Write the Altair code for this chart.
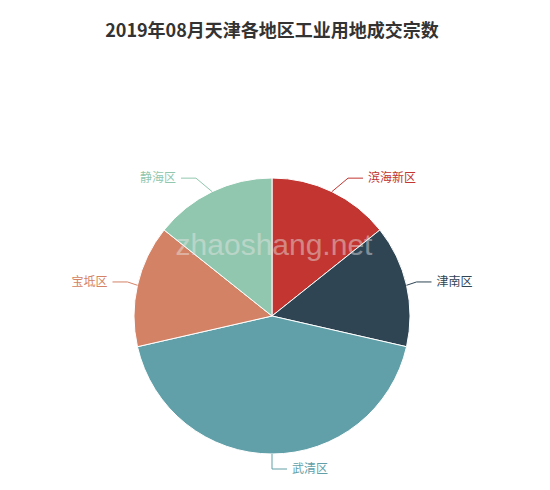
import math
import pandas as pd
import altair as alt

title = "2019年08月天津各地区工业用地成交宗数"
districts = ["滨海新区", "津南区", "武清区", "宝坻区", "静海区"]
counts = [1, 1, 3, 1, 1]
colors = ["#c23531", "#2f4554", "#61a0a8", "#d48265", "#91c7ae"]

W, H = 534, 474
CX, CY, R = 264, 308, 138
LEN1, LEN2, GAP = 15, 15, 5

df = pd.DataFrame({"name": districts, "value": counts, "idx": range(len(districts))})

# leader lines and label anchors, derived from the slice angles
# (label x pushed out along a circle, the way the original pie lays labels out)
total = sum(counts)
line_rows, label_rows = [], []
cum = 0
for name, v in zip(districts, counts):
    mid = (cum + v / 2) / total * 2 * math.pi
    cum += v
    sx, sy = math.sin(mid), -math.cos(mid)
    side = 1 if sx >= -1e-9 else -1
    p1 = (CX + R * sx, CY + R * sy)
    ly = CY + (R + LEN1) * sy
    tx = CX + (R + LEN1) * sx + side * (LEN2 + GAP)
    dy = abs(ly - CY)
    if dy < R + LEN1 - 1e-6:
        tx = CX + side * math.sqrt((R + LEN1 + LEN2) ** 2 - dy ** 2)
    x3 = tx - side * GAP
    x2 = x3 - side * LEN2
    for k, (px, py) in enumerate([p1, (x2, ly), (x3, ly)]):
        line_rows.append({"name": name, "k": k, "px": px, "py": py})
    label_rows.append({"name": name, "tx": tx, "ty": ly,
                       "side": "right" if side > 0 else "left"})
lines = pd.DataFrame(line_rows)
labels = pd.DataFrame(label_rows)

color = alt.Color("name:N", scale=alt.Scale(domain=districts, range=colors), legend=None)

pie = alt.Chart(df).mark_arc(stroke="white", strokeWidth=1).encode(
    theta=alt.Theta("value:Q", stack=True),
    order=alt.Order("idx:Q"),
    color=color,
    radius=alt.value(R),
    x=alt.value(CX),
    y=alt.value(CY),
)

leader = alt.Chart(lines).mark_line(strokeWidth=1).encode(
    x=alt.X("px:Q", scale=None),
    y=alt.Y("py:Q", scale=None),
    detail="name:N",
    order="k:Q",
    color=color,
)

label_r = alt.Chart(labels).transform_filter("datum.side == 'right'").mark_text(
    align="left", baseline="middle", fontSize=12, font="Noto Sans CJK SC"
).encode(
    x=alt.X("tx:Q", scale=None),
    y=alt.Y("ty:Q", scale=None),
    text="name:N",
    color=color,
)
label_l = alt.Chart(labels).transform_filter("datum.side == 'left'").mark_text(
    align="right", baseline="middle", fontSize=12, font="Noto Sans CJK SC"
).encode(
    x=alt.X("tx:Q", scale=None),
    y=alt.Y("ty:Q", scale=None),
    text="name:N",
    color=color,
)

watermark = alt.Chart(pd.DataFrame({"t": ["zhaoshang.net"]})).mark_text(
    align="center", baseline="alphabetic", fontSize=30, font="Liberation Sans",
    color="#e8e8e8", opacity=0.45,
).encode(text="t:N", x=alt.value(266), y=alt.value(247))

head = alt.Chart(pd.DataFrame({"t": [title]})).mark_text(
    align="center", baseline="middle", fontSize=18, fontWeight="bold",
    font="Noto Sans CJK SC", color="#333333",
).encode(text="t:N", x=alt.value(264), y=alt.value(24))

chart = (
    alt.layer(pie, leader, label_r, label_l, watermark, head)
    .properties(width=W, height=H, padding=0)
    .configure_view(stroke=None)
)

chart.save("out.html", embed_options={"renderer": "svg", "actions": False})
